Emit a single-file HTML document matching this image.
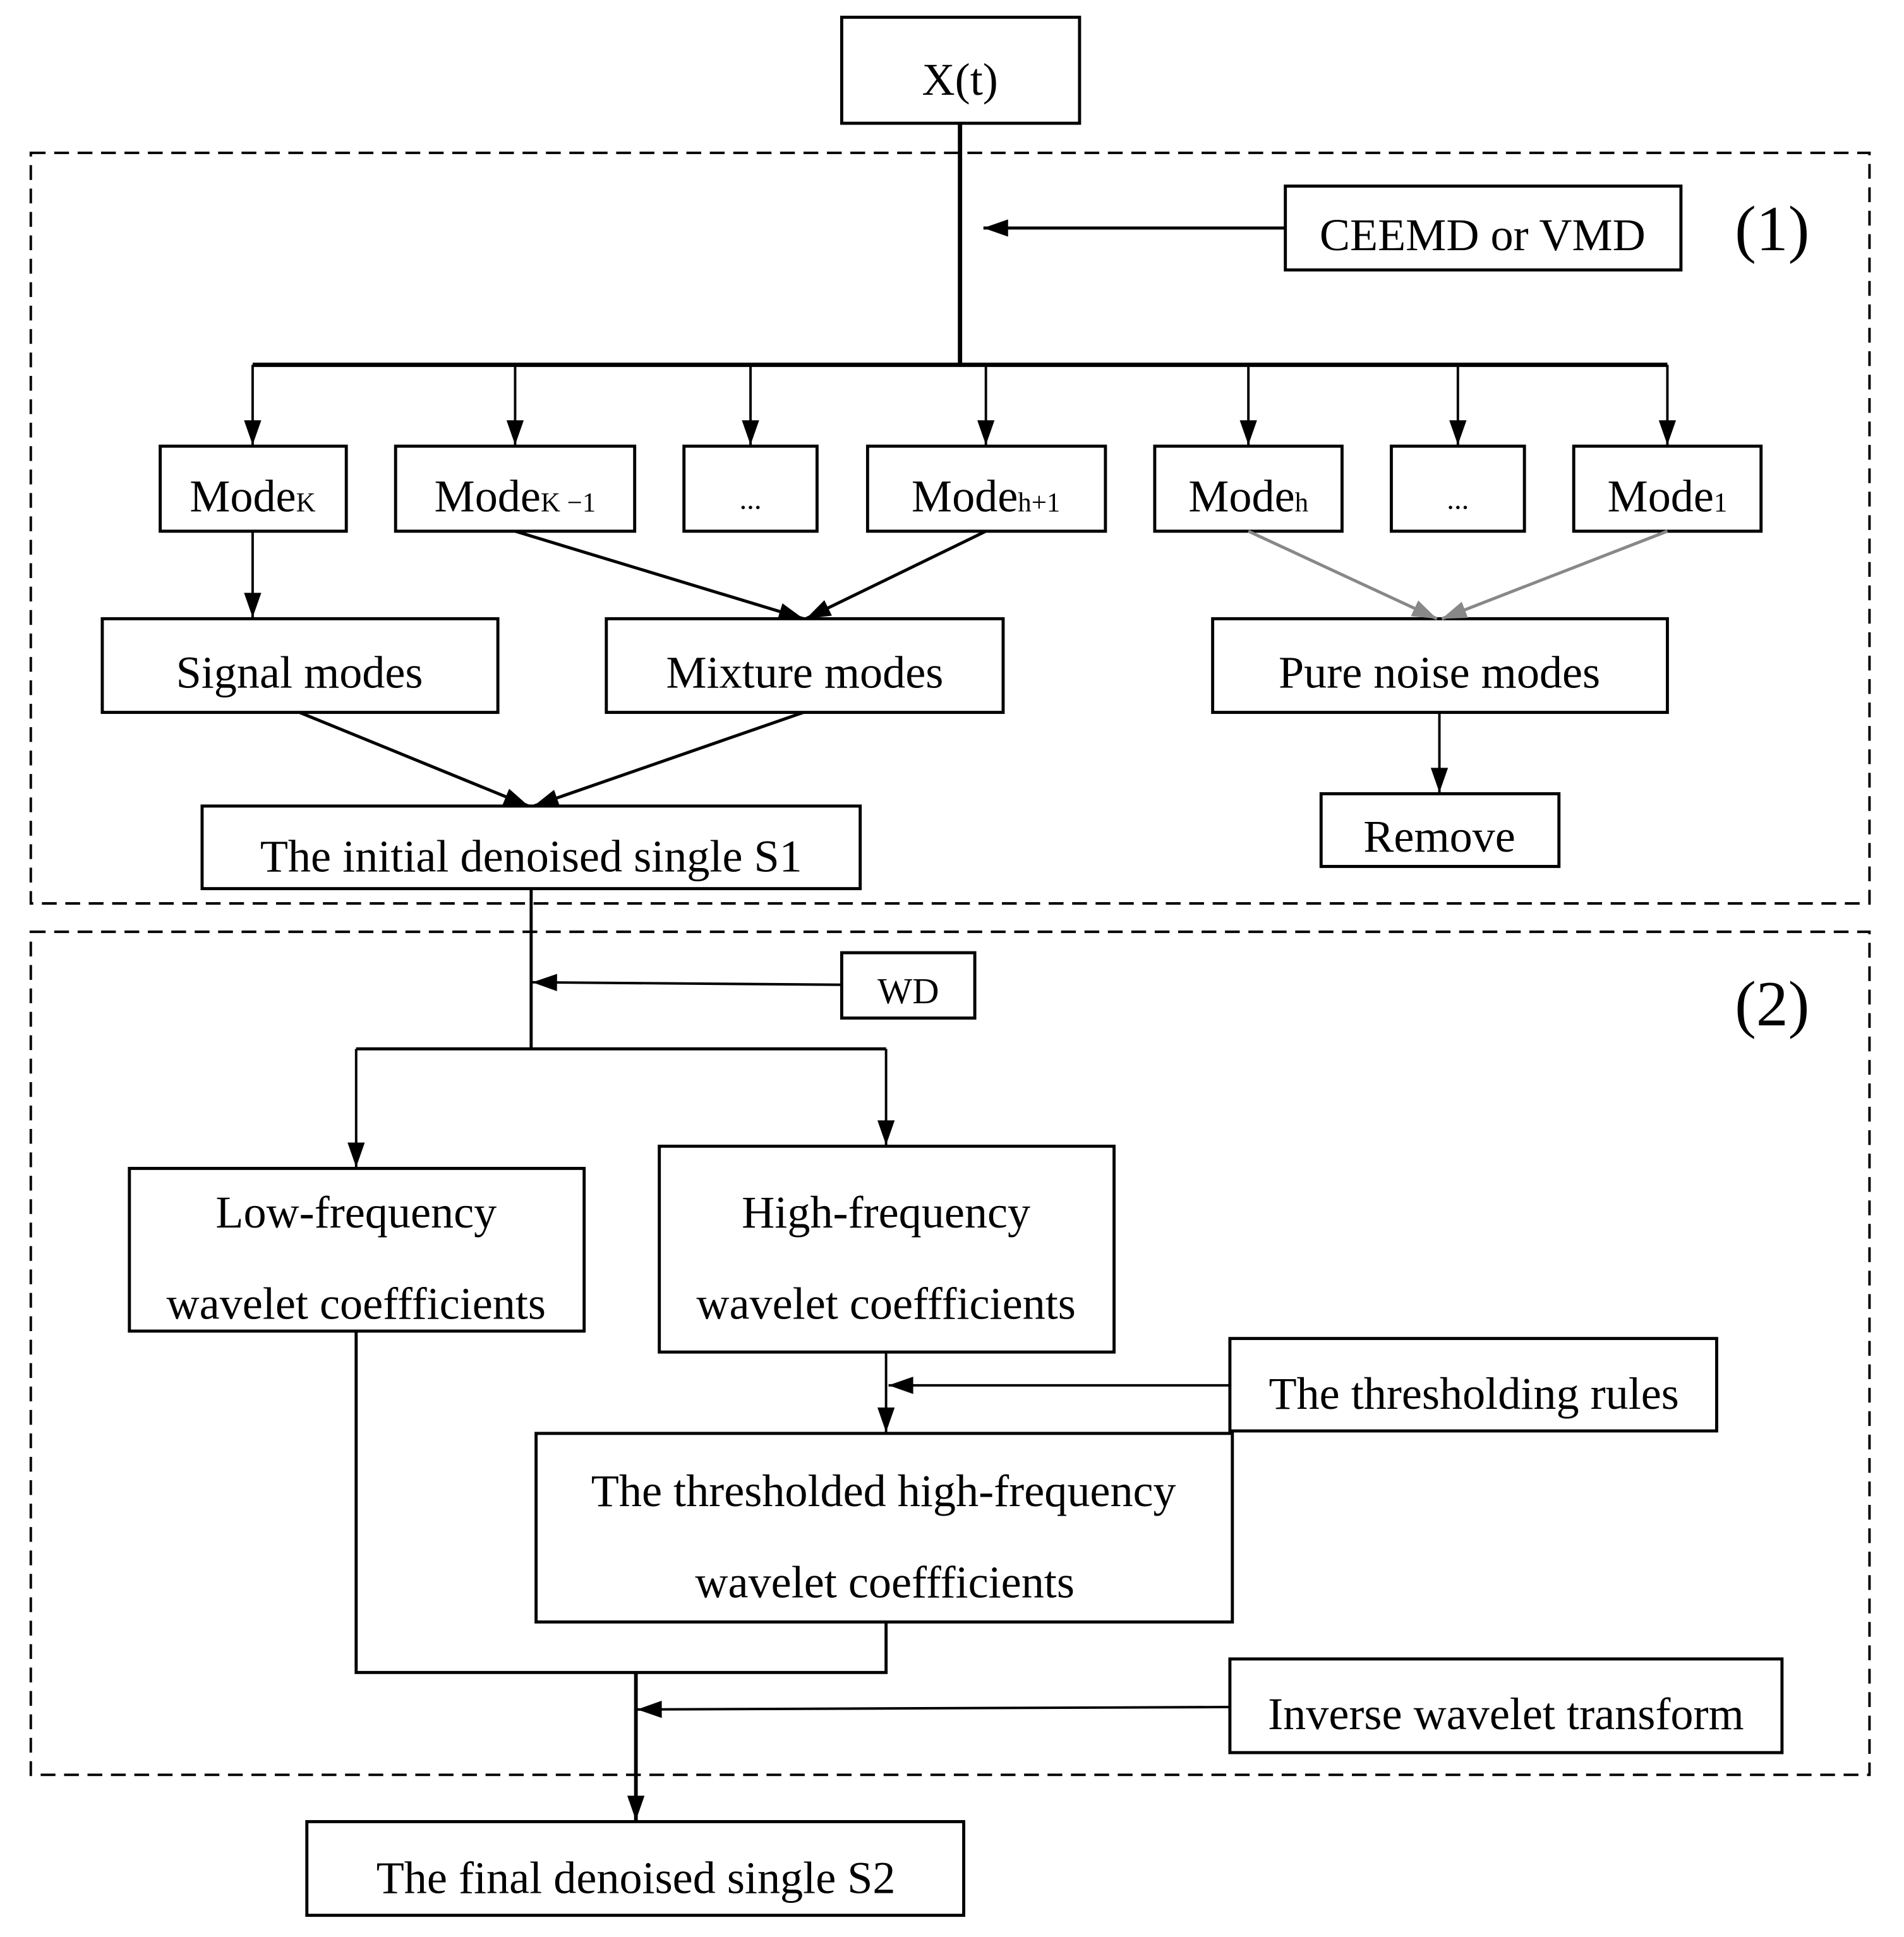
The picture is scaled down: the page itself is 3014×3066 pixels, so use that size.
<!DOCTYPE html>
<html><head><style>
html,body{margin:0;padding:0;background:#fff;}
svg{display:block;}
text{font-family:"Liberation Serif",serif;fill:#000;}
</style></head><body>
<svg width="3014" height="3066" viewBox="0 0 1545 1571.6" preserveAspectRatio="none" xmlns="http://www.w3.org/2000/svg">
<defs>
<marker id="b" viewBox="0 0 20 14" refX="20" refY="7" markerWidth="22" markerHeight="14" markerUnits="userSpaceOnUse" orient="auto"><path d="M0,0 L20,7 L0,14z" fill="#000"/></marker>
<marker id="g" viewBox="0 0 20 14" refX="20" refY="7" markerWidth="22" markerHeight="14" markerUnits="userSpaceOnUse" orient="auto"><path d="M0,0 L20,7 L0,14z" fill="#888"/></marker>
</defs>
<g fill="none" stroke="#000" stroke-width="2.5">
<rect x="25" y="124" width="1492" height="609" stroke-dasharray="12,7" stroke-width="2"/>
<rect x="25" y="756" width="1492" height="684" stroke-dasharray="12,7" stroke-width="2"/>
<rect x="683" y="14" width="193" height="86"/>
<rect x="1043" y="151" width="321" height="68"/>
<rect x="130" y="362" width="151" height="69"/>
<rect x="321" y="362" width="194" height="69"/>
<rect x="555" y="362" width="108" height="69"/>
<rect x="704" y="362" width="193" height="69"/>
<rect x="937" y="362" width="152" height="69"/>
<rect x="1129" y="362" width="108" height="69"/>
<rect x="1277" y="362" width="152" height="69"/>
<rect x="83" y="502" width="321" height="76"/>
<rect x="492" y="502" width="322" height="76"/>
<rect x="984" y="502" width="369" height="76"/>
<rect x="1072" y="644" width="193" height="59"/>
<rect x="164" y="654" width="534" height="67"/>
<rect x="683" y="773" width="108" height="53"/>
<rect x="105" y="948" width="369" height="132"/>
<rect x="535" y="930" width="369" height="167"/>
<rect x="998" y="1086" width="395" height="75"/>
<rect x="435" y="1163" width="565" height="153"/>
<rect x="998" y="1346" width="448" height="76"/>
<rect x="249" y="1478" width="533" height="76"/>
<path d="M779,100 V296 M205,296 H1353" stroke-width="3.5"/>
<path d="M1043,185 H798" marker-end="url(#b)"/>
<path d="M205,296V361" marker-end="url(#b)" stroke-width="2"/>
<path d="M418,296V361" marker-end="url(#b)" stroke-width="2"/>
<path d="M609,296V361" marker-end="url(#b)" stroke-width="2"/>
<path d="M800,296V361" marker-end="url(#b)" stroke-width="2"/>
<path d="M1013,296V361" marker-end="url(#b)" stroke-width="2"/>
<path d="M1183,296V361" marker-end="url(#b)" stroke-width="2"/>
<path d="M1353,296V361" marker-end="url(#b)" stroke-width="2"/>
<path d="M205,431V501" marker-end="url(#b)" stroke-width="2"/>
<path d="M418,431 L652,502" marker-end="url(#b)"/>
<path d="M800,431 L654,502" marker-end="url(#b)"/>
<path d="M1013,431 L1166,502" stroke="#888" marker-end="url(#g)"/>
<path d="M1353,431 L1170,502" stroke="#888" marker-end="url(#g)"/>
<path d="M1168,578V643" marker-end="url(#b)" stroke-width="2"/>
<path d="M243,578 L429,654" marker-end="url(#b)"/>
<path d="M652,578 L433,654" marker-end="url(#b)"/>
<path d="M431,721V851 M289,851H719"/>
<path d="M683,799 L432,797" marker-end="url(#b)" stroke-width="2"/>
<path d="M289,851V947" marker-end="url(#b)" stroke-width="2"/>
<path d="M719,851V929" marker-end="url(#b)" stroke-width="2"/>
<path d="M998,1124 H721" marker-end="url(#b)" stroke-width="2"/>
<path d="M719,1097V1162" marker-end="url(#b)" stroke-width="2"/>
<path d="M289,1080V1357H719V1316"/>
<path d="M516,1357V1477" marker-end="url(#b)" stroke-width="3"/>
<path d="M998,1385 L517,1387" marker-end="url(#b)" stroke-width="2"/>
</g>
<g font-size="37" text-anchor="middle">
<text x="779" y="77">X(t)</text>
<text x="1203" y="203">CEEMD or VMD</text>
<text x="1438" y="203" font-size="52">(1)</text>
<text x="1438" y="832" font-size="52">(2)</text>
<text x="205" y="415">Mode<tspan font-size="22">K</tspan></text>
<text x="418" y="415">Mode<tspan font-size="22">K −1</tspan></text>
<text x="609" y="413" font-size="24">...</text>
<text x="800" y="415">Mode<tspan font-size="22">h+1</tspan></text>
<text x="1013" y="415">Mode<tspan font-size="22">h</tspan></text>
<text x="1183" y="413" font-size="24">...</text>
<text x="1353" y="415">Mode<tspan font-size="22">1</tspan></text>
<text x="243" y="558">Signal modes</text>
<text x="653" y="558">Mixture modes</text>
<text x="1168" y="558">Pure noise modes</text>
<text x="1168" y="691">Remove</text>
<text x="431" y="707">The initial denoised single S1</text>
<text x="737" y="814" font-size="30">WD</text>
<text x="289" y="996">Low-frequency</text>
<text x="289" y="1070">wavelet coeffficients</text>
<text x="719" y="996">High-frequency</text>
<text x="719" y="1070">wavelet coeffficients</text>
<text x="1196" y="1143">The thresholding rules</text>
<text x="717" y="1222">The thresholded  high-frequency</text>
<text x="718" y="1296">wavelet coeffficients</text>
<text x="1222" y="1403">Inverse wavelet transform</text>
<text x="516" y="1536">The final denoised single S2</text>
</g>
</svg>
</body></html>
